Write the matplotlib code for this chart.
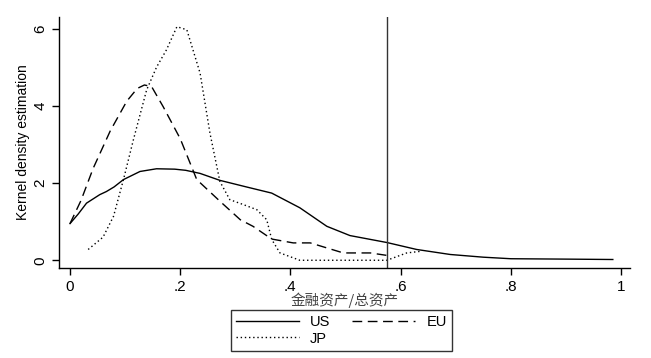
import matplotlib.pyplot as plt
import numpy as np

# values
us_x = [0, 0.015, 0.03, 0.054, 0.066, 0.08, 0.097, 0.127, 0.157, 0.19, 0.21, 0.236, 0.272,
        0.32, 0.366, 0.417, 0.466, 0.508, 0.575, 0.629, 0.69, 0.75, 0.8, 0.9, 0.985]
us_y = [0.95, 1.2, 1.48, 1.70, 1.78, 1.9, 2.09, 2.30, 2.37, 2.36, 2.33, 2.25, 2.07,
        1.9, 1.74, 1.36, 0.88, 0.64, 0.46, 0.28, 0.15, 0.08, 0.04, 0.03, 0.02]

eu_x = [0, 0.02, 0.042, 0.073, 0.103, 0.122, 0.135, 0.148, 0.169, 0.2, 0.23, 0.272, 0.309,
        0.332, 0.366, 0.405, 0.436, 0.496, 0.545, 0.578]
eu_y = [0.95, 1.55, 2.38, 3.35, 4.12, 4.45, 4.54, 4.5, 3.98, 3.15, 2.09, 1.53, 1.05,
        0.88, 0.55, 0.45, 0.45, 0.19, 0.19, 0.12]

jp_x = [0.033, 0.06, 0.079, 0.097, 0.115, 0.139, 0.157, 0.175, 0.194, 0.212, 0.236,
        0.254, 0.272, 0.29, 0.315, 0.339, 0.357, 0.366, 0.381, 0.417, 0.5, 0.575,
        0.611, 0.635]
jp_y = [0.28, 0.6, 1.14, 2.09, 3.12, 4.41, 5.0, 5.45, 6.05, 5.97, 4.85,
        3.29, 2.04, 1.57, 1.44, 1.31, 1.05, 0.54, 0.19, 0.0, 0.0, 0.0,
        0.19, 0.23]

vline_x = 0.575
x_ticks = [0, 0.2, 0.4, 0.6, 0.8, 1]
x_tick_labels = ['0', '.2', '.4', '.6', '.8', '1']
y_ticks = [0, 2, 4, 6]

plt.rcParams['font.family'] = ['Liberation Sans', 'Noto Sans CJK SC', 'DejaVu Sans']

fig = plt.figure(figsize=(6.51, 3.58), dpi=100)
ax = fig.add_axes([0.0906, 0.2514, 0.877, 0.701])

ax.plot(us_x, us_y, color='black', lw=1.0, linestyle='-', label='US')
ax.plot(jp_x, jp_y, color='black', lw=1.0, linestyle=(0, (1, 2)), label='JP')
ax.plot(eu_x, eu_y, color='black', lw=1.0, linestyle=(0, (7, 4)), label='EU')
ax.axvline(vline_x, color='#333333', lw=1.0)

ax.set_xlim(-0.02, 1.016)
ax.set_ylim(-0.2, 6.3)
ax.set_xticks(x_ticks)
ax.set_xticklabels(x_tick_labels)
ax.set_yticks(y_ticks)
ax.set_yticklabels([str(v) for v in y_ticks], rotation=90, va='center')
ax.tick_params(direction='out', length=5, width=1, labelsize=11, color='black')

for s in ['top', 'right']:
    ax.spines[s].set_visible(False)
for s in ['left', 'bottom']:
    ax.spines[s].set_linewidth(1)

ax.set_ylabel('Kernel density estimation', fontsize=10, labelpad=2)
ax.set_xlabel('金融资产/总资产', fontsize=10.5, color='#444444', labelpad=-1,
              family=['Noto Sans CJK SC', 'DejaVu Sans'])

leg = fig.legend(loc='center', bbox_to_anchor=(341.5 / 651, 1 - 330.5 / 358), ncol=2,
                 frameon=True, fancybox=False, edgecolor='black', fontsize=10.5,
                 handlelength=4.3, columnspacing=1.5, borderpad=0.35,
                 labelspacing=0.15, handletextpad=0.8)
leg.get_frame().set_linewidth(1)

fig.savefig('out.png', dpi=100)
